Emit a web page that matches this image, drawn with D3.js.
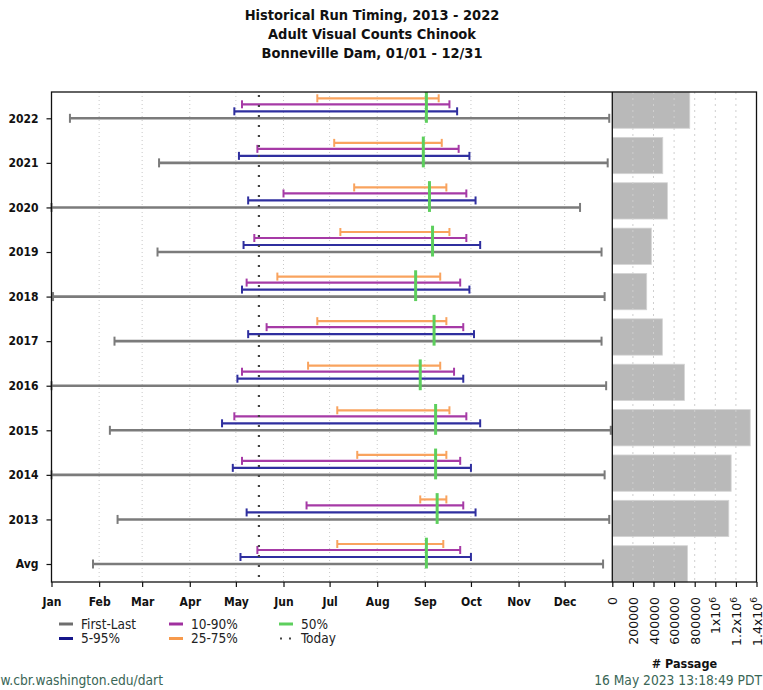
<!DOCTYPE html>
<html>
<head>
<meta charset="utf-8">
<script src="https://cdn.jsdelivr.net/npm/d3@7"></script>
<style>
  html, body { margin: 0; padding: 0; background: #fff; }
  svg { display: block; }
</style>
</head>
<body>
<svg id="chart" width="763" height="690"></svg>
<script>
// Run timing rows (top to bottom) and the dates (MM-DD) of each passage percentile.
const categories = ["2022", "2021", "2020", "2019", "2018", "2017", "2016", "2015", "2014", "2013", "Avg"];
const firstDay = ["01-13", "03-12", "01-01", "03-11", "01-02", "02-11", "01-01", "02-08", "01-01", "02-13", "01-28"];
const lastDay  = ["12-30", "12-29", "12-11", "12-25", "12-27", "12-25", "12-28", "12-31", "12-27", "12-30", "12-26"];
const pct5     = ["04-30", "05-03", "05-09", "05-06", "05-05", "05-09", "05-02", "04-22", "04-29", "05-08", "05-04"];
const pct95    = ["09-22", "09-30", "10-04", "10-07", "09-30", "10-03", "09-26", "10-07", "10-01", "10-04", "10-01"];
const pct10    = ["05-05", "05-15", "06-01", "05-13", "05-08", "05-21", "05-05", "04-30", "05-05", "06-16", "05-15"];
const pct90    = ["09-17", "09-23", "09-28", "09-28", "09-24", "09-26", "09-20", "09-28", "09-24", "09-26", "09-24"];
const pct25    = ["06-23", "07-04", "07-17", "07-08", "05-28", "06-23", "06-17", "07-06", "07-19", "08-29", "07-06"];
const pct75    = ["09-10", "09-12", "09-15", "09-17", "09-11", "09-15", "09-11", "09-17", "09-15", "09-15", "09-13"];
const pct50    = ["09-02", "08-31", "09-04", "09-06", "08-26", "09-07", "08-29", "09-08", "09-08", "09-09", "09-02"];
// Total adult passage per row
const passage  = [752000, 490000, 535000, 379000, 334000, 486000, 700000, 1339000, 1154000, 1131000, 730000];

const monthLabels = ["Jan", "Feb", "Mar", "Apr", "May", "Jun", "Jul", "Aug", "Sep", "Oct", "Nov", "Dec"];
const passageTicks = [0, 200000, 400000, 600000, 800000, 1000000, 1200000, 1400000];
const todayDate = "05-16";
const titleLines = ["Historical Run Timing, 2013 - 2022", "Adult Visual Counts Chinook", "Bonneville Dam, 01/01 - 12/31"];

const YEAR = 2022;
const parseMD = s => { const [m, d] = s.split("-").map(Number); return new Date(Date.UTC(YEAR, m - 1, d)); };

const svg = d3.select("#chart");
const FONT = "DejaVu Sans, sans-serif";

// Panel geometry
const plotTop = 92, plotBottom = 582, plotLeft = 51.5, plotMid = 612.3, plotRight = 756.5;

const x = d3.scaleUtc()
  .domain([new Date(Date.UTC(YEAR, 0, 1)), new Date(Date.UTC(YEAR + 1, 0, 1))])
  .range([plotLeft, plotMid]);
const y = d3.scalePoint().domain(categories).range([plotTop + 26.3, plotBottom - 18]);
const xp = d3.scaleLinear().domain([0, 1400000]).range([plotMid, plotRight]);
const yb = d3.scaleBand().domain(categories).range([plotTop, plotBottom]).paddingInner(0.2).paddingOuter(0);

// Title
svg.append("g").selectAll("text").data(titleLines).join("text")
  .attr("x", 372).attr("y", (d, i) => 20 + i * 19)
  .attr("text-anchor", "middle")
  .attr("font-family", FONT).attr("font-stretch", "condensed")
  .attr("font-weight", "bold").attr("font-size", 14.5).attr("fill", "#111")
  .text(d => d);

// Month gridlines (dotted)
const months = d3.utcMonth.range(new Date(Date.UTC(YEAR, 0, 1)), new Date(Date.UTC(YEAR + 1, 0, 1)));
svg.append("g").selectAll("line").data(months.slice(1)).join("line")
  .attr("x1", d => x(d)).attr("x2", d => x(d))
  .attr("y1", plotTop).attr("y2", plotBottom)
  .attr("stroke", "#c8c8c8").attr("stroke-width", 1).attr("stroke-dasharray", "1,3");

// Passage bars
svg.append("g").selectAll("rect").data(categories).join("rect")
  .attr("x", xp(0))
  .attr("y", d => yb(d))
  .attr("width", (d, i) => xp(passage[i]) - xp(0))
  .attr("height", yb.bandwidth())
  .attr("fill", "#b9b9b9").attr("stroke", "#d4d4d4").attr("stroke-width", 0.8);

// Passage gridlines (dotted, drawn over the bars)
svg.append("g").selectAll("line").data(passageTicks.slice(1)).join("line")
  .attr("x1", d => xp(d)).attr("x2", d => xp(d))
  .attr("y1", plotTop).attr("y2", plotBottom)
  .attr("stroke", "#cfcfcf").attr("stroke-width", 1).attr("stroke-dasharray", "2,4");

// Percentile ranges, each drawn as a capped horizontal segment
const ranges = [
  { lo: firstDay, hi: lastDay, off: 0,   color: "#7b7b7b", w: 2.6, cap: 4.5 },
  { lo: pct5,     hi: pct95,   off: -7,  color: "#2f2f9f", w: 2.2, cap: 4 },
  { lo: pct10,    hi: pct90,   off: -14, color: "#a63aa6", w: 2.2, cap: 4 },
  { lo: pct25,    hi: pct75,   off: -20, color: "#f9a35e", w: 2.2, cap: 4 }
];
ranges.forEach(r => {
  const g = svg.append("g");
  categories.forEach((c, i) => {
    const yy = y(c) + r.off;
    const x1 = x(parseMD(r.lo[i])), x2 = x(parseMD(r.hi[i]));
    g.append("line").attr("x1", x1).attr("x2", x2).attr("y1", yy).attr("y2", yy)
      .attr("stroke", r.color).attr("stroke-width", r.w);
    [x1, x2].forEach(xx => g.append("line")
      .attr("x1", xx).attr("x2", xx).attr("y1", yy - r.cap).attr("y2", yy + r.cap)
      .attr("stroke", r.color).attr("stroke-width", 2));
  });
});

// Median (50%) marks
svg.append("g").selectAll("line").data(categories).join("line")
  .attr("x1", (d, i) => x(parseMD(pct50[i]))).attr("x2", (d, i) => x(parseMD(pct50[i])))
  .attr("y1", d => Math.max(plotTop, y(d) - 26.3)).attr("y2", d => y(d) + 4.5)
  .attr("stroke", "#5dcf5d").attr("stroke-width", 3);

// Today marker
svg.append("line")
  .attr("x1", x(parseMD(todayDate))).attr("x2", x(parseMD(todayDate)))
  .attr("y1", plotTop + 3).attr("y2", plotBottom)
  .attr("stroke", "#444").attr("stroke-width", 2.2).attr("stroke-dasharray", "2,8");

// Frame
svg.append("rect").attr("x", plotLeft).attr("y", plotTop)
  .attr("width", plotRight - plotLeft).attr("height", plotBottom - plotTop)
  .attr("fill", "none").attr("stroke", "#111").attr("stroke-width", 1.3);
svg.append("line").attr("x1", plotMid).attr("x2", plotMid).attr("y1", plotTop).attr("y2", plotBottom)
  .attr("stroke", "#111").attr("stroke-width", 1.3);

// Axes
const styleAxis = g => {
  g.select(".domain").remove();
  g.selectAll(".tick line").attr("stroke", "#111").attr("stroke-width", 1.2);
};

svg.append("g").attr("transform", `translate(0,${plotBottom})`)
  .call(d3.axisBottom(x).tickValues(months).tickSize(5).tickPadding(10)
    .tickFormat((d, i) => monthLabels[i]))
  .call(styleAxis)
  .call(g => g.selectAll("text").attr("font-family", FONT).attr("font-stretch", "condensed")
    .attr("font-weight", "bold").attr("font-size", 12).attr("fill", "#111"));

svg.append("g").attr("transform", `translate(${plotLeft},0)`)
  .call(d3.axisLeft(y).tickSize(5).tickPadding(8))
  .call(styleAxis)
  .call(g => g.selectAll("text").attr("font-family", FONT).attr("font-stretch", "condensed")
    .attr("font-weight", "bold").attr("font-size", 12).attr("fill", "#111"));

const px = svg.append("g").attr("transform", `translate(0,${plotBottom})`)
  .call(d3.axisBottom(xp).tickValues(passageTicks).tickSize(5).tickFormat(""))
  .call(styleAxis);
px.selectAll(".tick").append("text")
  .attr("transform", "translate(0,15) rotate(-90)")
  .attr("text-anchor", "end").attr("dy", "0.36em")
  .attr("font-family", FONT).attr("font-size", 12.5).attr("fill", "#111")
  .each(function (d) {
    const t = d3.select(this);
    if (d >= 1000000) {
      t.append("tspan").text(d3.format(".2~f")(d / 1e6) + "x10");
      t.append("tspan").attr("dy", "-0.45em").attr("font-size", 9).text("6");
    } else {
      t.text(d);
    }
  });

svg.append("text").attr("x", (plotMid + plotRight) / 2).attr("y", 668)
  .attr("text-anchor", "middle").attr("font-family", FONT).attr("font-stretch", "condensed")
  .attr("font-weight", "bold").attr("font-size", 12.5).attr("fill", "#111")
  .text("# Passage");

// Legend
const legendItems = [
  { label: "First-Last", color: "#6e6e6e", col: 0, row: 0 },
  { label: "5-95%",      color: "#16168a", col: 0, row: 1 },
  { label: "10-90%",     color: "#a0309f", col: 1, row: 0 },
  { label: "25-75%",     color: "#f79a4c", col: 1, row: 1 },
  { label: "50%",        color: "#5dcf5d", col: 2, row: 0 },
  { label: "Today",      color: "#444",    col: 2, row: 1, dots: true }
];
const lg = svg.append("g").selectAll("g").data(legendItems).join("g")
  .attr("transform", d => `translate(${59 + d.col * 110},${624 + d.row * 14.5})`);
lg.filter(d => !d.dots).append("line")
  .attr("x1", 0).attr("x2", 14).attr("stroke", d => d.color).attr("stroke-width", 3);
lg.filter(d => d.dots).append("line")
  .attr("x1", 1).attr("x2", 14).attr("stroke", d => d.color).attr("stroke-width", 2)
  .attr("stroke-dasharray", "2,7");
lg.append("text").attr("x", 22).attr("dy", "0.35em")
  .attr("font-family", FONT).attr("font-stretch", "condensed").attr("font-size", 13.5).attr("fill", "#222")
  .text(d => d.label);

// Footer
svg.append("text").attr("x", 163).attr("y", 685).attr("text-anchor", "end")
  .attr("font-family", FONT).attr("font-stretch", "condensed").attr("font-size", 13.7).attr("fill", "#3a6656")
  .text("www.cbr.washington.edu/dart");
svg.append("text").attr("x", 762).attr("y", 685).attr("text-anchor", "end")
  .attr("font-family", FONT).attr("font-stretch", "condensed").attr("font-size", 13.7).attr("fill", "#3a6656")
  .text("16 May 2023 13:18:49 PDT");
</script>
</body>
</html>
